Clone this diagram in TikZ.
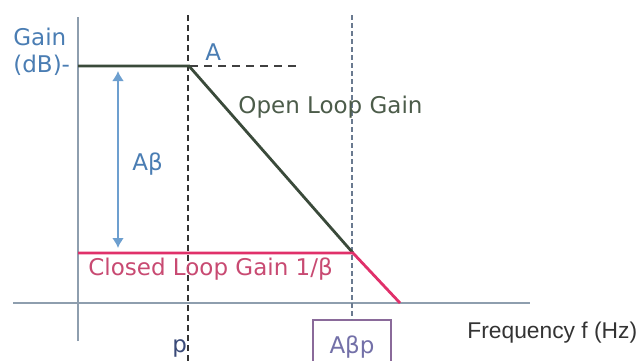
\documentclass[tikz,border=0pt]{standalone}
\usepackage{fontspec}
\setmainfont{DejaVu Sans}
\newfontfamily\freqfont{Liberation Sans}
\usepackage{xcolor}
\usetikzlibrary{arrows.meta}

\definecolor{axisgray}{HTML}{8E9EAE}
\definecolor{gainblue}{HTML}{4A7DB3}
\definecolor{arrowblue}{HTML}{6D9FCF}
\definecolor{olgreen}{HTML}{3A4A3A}
\definecolor{oltext}{HTML}{4C5C4A}
\definecolor{clred}{HTML}{E0306A}
\definecolor{cltext}{HTML}{C84A72}
\definecolor{boxpurple}{HTML}{8A6A9A}
\definecolor{boxtext}{HTML}{7370A8}
\definecolor{ptext}{HTML}{3A4A78}
\definecolor{guidegray}{HTML}{6A7A90}

\begin{document}
\begin{tikzpicture}[x=0.5pt,y=-0.5pt,
  lbl/.style={font=\fontsize{11.5}{13}\selectfont, inner sep=0pt, anchor=base west}]
  \useasboundingbox (0,0) rectangle (640,360);

  \coordinate (O) at (78,303);
  \coordinate (Ytop) at (78,17);
  \coordinate (Ybot) at (78,341);
  \coordinate (Xl) at (13,303);
  \coordinate (Xr) at (530,303);
  \draw[axisgray, line width=1.3pt] (Ybot) -- (Ytop);
  \draw[axisgray, line width=1.3pt] (Xl) -- (Xr);

  \coordinate (G) at (78,66);
  \coordinate (A) at (189,66);
  \coordinate (Aend) at (297,66);
  \coordinate (C) at (353,253);
  \coordinate (CL) at (78,253);
  \coordinate (F) at (400,303);

  % guides
  \coordinate (ptop) at (188,15);
  \coordinate (pbot) at (188,362);
  \coordinate (abtop) at (352,15);
  \draw[dashed, dash pattern=on 3pt off 2pt, line width=0.6pt, black!80] (ptop) -- (pbot);
  \draw[dashed, dash pattern=on 4pt off 3pt, line width=0.6pt, black!75] (G) -- (Aend);

  \node[draw=boxpurple, line width=0.7pt, anchor=base, text=boxtext,
        font=\fontsize{11.5}{13}\selectfont, minimum width=39pt,
        text height=12pt, text depth=12pt, inner ysep=4.5pt] (abp) at (352,353) {Aβp};
  \draw[dashed, dash pattern=on 2.5pt off 1.5pt, line width=0.6pt, guidegray] (abtop) -- (abp.north);

  % gain curves
  \draw[olgreen, line width=1.4pt] (G) -- (A) -- (C);
  \draw[clred, line width=1.4pt] (CL) -- (C) -- (F);

  \coordinate (arrtop) at (118,71);
  \coordinate (arrbot) at (118,248);
  \draw[arrowblue, line width=1pt, {Latex[length=5pt,width=6pt]}-{Latex[length=5pt,width=6pt]}] (arrtop) -- (arrbot);

  \node[lbl, text=gainblue] (gainlbl) at (13,45) {Gain};
  \node[lbl, text=gainblue] (dblbl) at (13,72) {(dB)-};
  \node[lbl, text=gainblue] (alabel) at (205,60) {A};
  \node[lbl, text=gainblue] (ablabel) at (132,170) {Aβ};
  \node[lbl, text=oltext] (ollabel) at (238,113) {Open Loop Gain};
  \node[lbl, text=cltext] (cllabel) at (88,275) {Closed Loop Gain 1/β};
  \node[lbl, text=ptext] (plabel) at (172,352) {p};
  \node[lbl, font=\freqfont\fontsize{11.4}{13}\selectfont, text=black!80] (freqlabel) at (467,338) {Frequency f (Hz)};
\end{tikzpicture}
\end{document}
